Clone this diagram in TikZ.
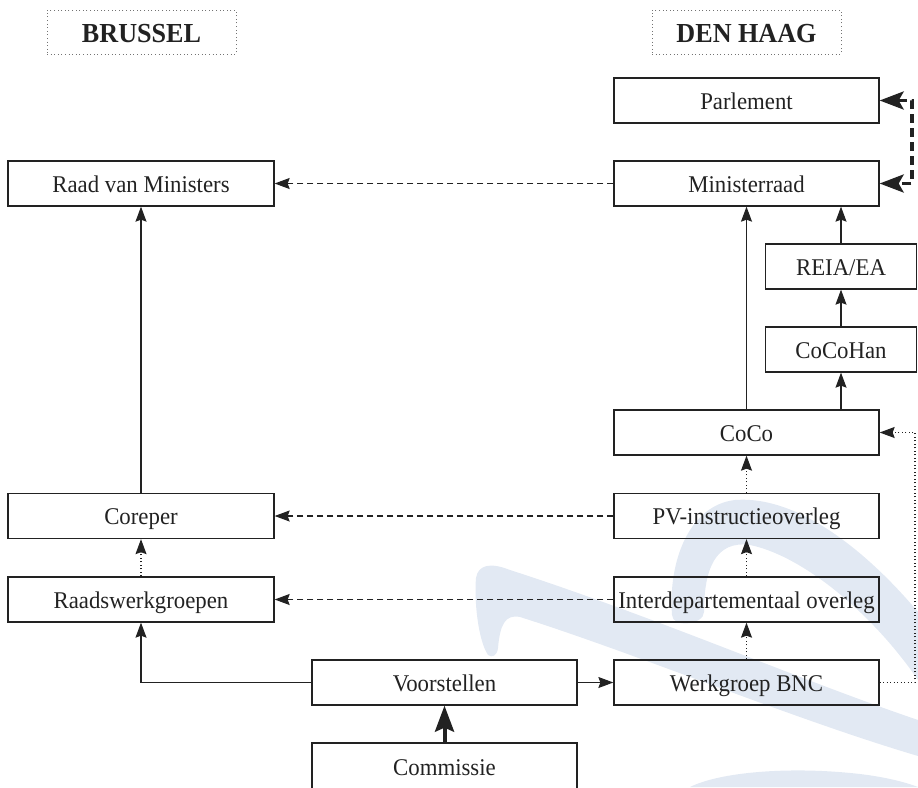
\documentclass[tikz,border=0pt]{standalone}
\usepackage{fontspec}
\setmainfont[FakeStretch=0.95]{Liberation Serif}
\usetikzlibrary{arrows.meta}
\definecolor{wm}{RGB}{226,233,243}
\definecolor{ink}{RGB}{34,34,34}
\begin{document}
\begin{tikzpicture}[x=1pt,y=-1pt,
  box/.style={draw=ink, line width=1.3pt, minimum width=265pt, minimum height=45pt,
    inner sep=0pt, text height=17pt, text depth=0pt, text=ink, font=\fontsize{24}{28}\selectfont},
  widebox/.style={box, minimum width=266pt},
  smallbox/.style={box, minimum width=151pt},
  hdr/.style={draw=black!55, line width=1pt, dash pattern=on 1pt off 2.6pt,
    minimum width=189pt, minimum height=44pt, inner sep=0pt, text height=21pt, text depth=0pt,
    text=ink, font=\bfseries\fontsize{27.5}{32}\selectfont},
  conn/.style={-{Stealth[length=15pt,width=11pt,inset=2pt]}, line width=1.1pt, draw=ink},
  dashedconn/.style={conn, dash pattern=on 6pt off 4pt},
  dottedconn/.style={conn, dash pattern=on 1pt off 2.5pt},
  thickconn/.style={draw=ink, line width=4pt, -{Stealth[length=26pt,width=19pt,inset=4pt]}},
  thickdash/.style={draw=ink, line width=3.5pt, dash pattern=on 9pt off 5pt,
    {Stealth[length=24pt,width=18pt,inset=5pt]}-{Stealth[length=24pt,width=18pt,inset=5pt]}},
  wmark/.style={fill=wm, draw=none}
]
\useasboundingbox (0,0) rectangle (918,787);
% watermark
\fill[wmark] (488,655) .. controls (478,640) and (474,600) .. (476,578)
  .. controls (478,565) and (490,562) .. (510,570)
  .. controls (650,615) and (800,680) .. (918,720)
  -- (918,756)
  .. controls (790,718) and (640,655) .. (520,617)
  .. controls (505,614) and (500,625) .. (498,648)
  .. controls (497,656) and (492,658) .. (488,655) -- cycle;
\fill[wmark] (672,615) .. controls (668,560) and (690,505) .. (735,500)
  .. controls (800,495) and (870,555) .. (918,612)
  -- (918,680)
  .. controls (870,610) and (800,555) .. (750,545)
  .. controls (715,540) and (704,570) .. (704,612)
  .. controls (704,625) and (672,628) .. (672,615) -- cycle;
\fill[wmark] (690,787) .. controls (720,772) and (790,766) .. (860,774)
  .. controls (885,777) and (905,782) .. (918,787) -- cycle;
% headers
\node[hdr] (bru) at (141.5,32) {BRUSSEL};
\node[hdr] (dh) at (746.5,32) {DEN HAAG};
% right column
\node[box] (parl) at (746.5,100.5) {Parlement};
\node[box] (mr) at (746.5,183.5) {Ministerraad};
\node[smallbox] (reia) at (841,266.5) {REIA/EA};
\node[smallbox] (cch) at (841,349.5) {CoCoHan};
\node[box] (coco) at (746.5,432.5) {CoCo};
\node[box] (pv) at (746.5,516) {PV-instructieoverleg};
\node[box] (ido) at (746.5,599.5) {Interdepartementaal overleg};
\node[box] (wg) at (746.5,682.5) {Werkgroep BNC};
% left column
\node[widebox] (rvm) at (141,183.5) {Raad van Ministers};
\node[widebox] (cor) at (141,516) {Coreper};
\node[widebox] (rwg) at (141,599.5) {Raadswerkgroepen};
% middle
\node[box] (vs) at (444.5,682.5) {Voorstellen};
\node[box, minimum height=47pt] (com) at (444.5,766.5) {Commissie};
% connectors
\draw[dashedconn] (mr.west) -- (rvm.east);
\draw[dashedconn] (pv.west) -- (cor.east);
\draw[dashedconn] (ido.west) -- (rwg.east);
\draw[conn] (cor.north) -- (rvm.south);
\draw[dottedconn] (rwg.north) -- (cor.south);
\draw[conn] (vs.west) -| (rwg.south);
\draw[conn] (vs.east) -- (wg.west);
\draw[thickconn] (com.north) -- (vs.south);
\draw[dottedconn] (wg.north) -- (ido.south);
\draw[dottedconn] (ido.north) -- (pv.south);
\draw[dottedconn] (pv.north) -- (coco.south);
\coordinate (loopx) at (915,0);
\draw[dottedconn] (wg.east) -- (wg.east -| loopx) |- (coco.east);
\draw[conn] (coco.north) -- (mr.south);
\draw[conn] (coco.north -| cch.south) -- (cch.south);
\draw[conn] (cch.north) -- (reia.south);
\draw[conn] (reia.north) -- (mr.south -| reia.north);
\coordinate (rx) at (912,0);
\draw[thickdash] (parl.east) -- (parl.east -| rx) -- (mr.east -| rx) -- (mr.east);
\end{tikzpicture}
\end{document}
